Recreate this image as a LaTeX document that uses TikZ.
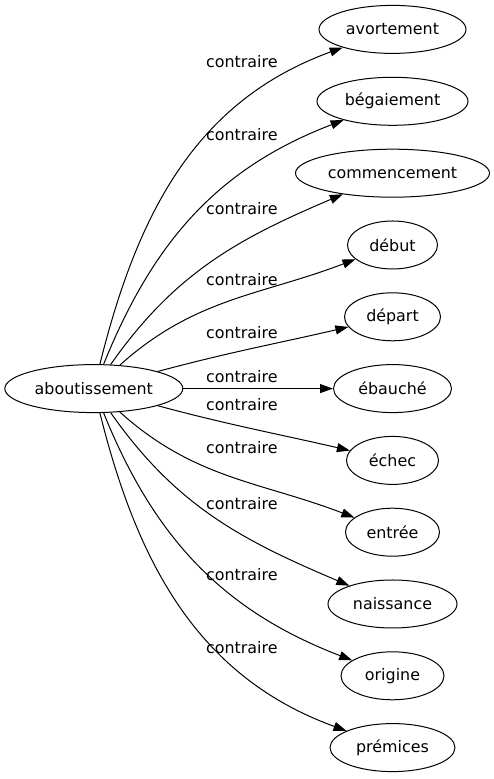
\documentclass[tikz,border=0pt]{standalone}
\usepackage{fontspec}
\setmainfont{DejaVu Sans}
\usetikzlibrary{shapes.geometric, arrows.meta}

\begin{document}
\begin{tikzpicture}[x=1bp, y=1bp, line width=1bp, >={Triangle[length=13bp,width=9bp]},
	mot/.style={draw, ellipse, inner sep=0pt, minimum height=48bp, font=\fontsize{15.9bp}{19bp}\selectfont},
	rel/.style={anchor=base west, inner sep=0pt, font=\fontsize{15.9bp}{19bp}\selectfont}]
	\useasboundingbox (0,0) rectangle (494,779);

	\node[mot, minimum width=178bp] (aboutissement) at (93.8,390.4) {aboutissement};

	\node[mot, minimum width=147bp] (avortement) at (392.5,749.6) {avortement};
	\node[mot, minimum width=151bp] (begaiement) at (392.5,677.7) {bégaiement};
	\node[mot, minimum width=194bp] (commencement) at (392.5,605.8) {commencement};
	\node[mot, minimum width=90bp] (debut) at (392.5,534.0) {début};
	\node[mot, minimum width=96bp] (depart) at (392.5,462.2) {départ};
	\node[mot, minimum width=118bp] (ebauche) at (392.5,390.4) {ébauché};
	\node[mot, minimum width=92bp] (echec) at (392.5,318.6) {échec};
	\node[mot, minimum width=94bp] (entree) at (392.5,246.8) {entrée};
	\node[mot, minimum width=129bp] (naissance) at (392.5,175.0) {naissance};
	\node[mot, minimum width=103bp] (origine) at (392.5,103.2) {origine};
	\node[mot, minimum width=125bp] (premices) at (392.5,31.4) {prémices};

	\draw[->] (aboutissement) to[out=76,in=200] (avortement);
	\draw[->] (aboutissement) to[out=68,in=201] (begaiement);
	\draw[->] (aboutissement) to[out=55,in=203] (commencement);
	\draw[->] (aboutissement) to[out=42,in=201] (debut);
	\draw[->] (aboutissement) to[out=15,in=193] (depart);
	\draw[->] (aboutissement) -- (ebauche);
	\draw[->] (aboutissement) to[out=-15,in=167] (echec);
	\draw[->] (aboutissement) to[out=-42,in=159] (entree);
	\draw[->] (aboutissement) to[out=-55,in=157] (naissance);
	\draw[->] (aboutissement) to[out=-68,in=159] (origine);
	\draw[->] (aboutissement) to[out=-76,in=160] (premices);

	\node[rel] (c-avortement) at (205.6,711.5) {contraire};
	\node[rel] (c-begaiement) at (205.6,638.5) {contraire};
	\node[rel] (c-commencement) at (205.6,564.0) {contraire};
	\node[rel] (c-debut) at (205.6,493.3) {contraire};
	\node[rel] (c-depart) at (205.6,440.0) {contraire};
	\node[rel] (c-ebauche) at (205.6,396.5) {contraire};
	\node[rel] (c-echec) at (205.6,368.5) {contraire};
	\node[rel] (c-entree) at (205.6,325.5) {contraire};
	\node[rel] (c-naissance) at (205.6,269.3) {contraire};
	\node[rel] (c-origine) at (205.6,198.5) {contraire};
	\node[rel] (c-premices) at (205.6,125.5) {contraire};
\end{tikzpicture}
\end{document}
